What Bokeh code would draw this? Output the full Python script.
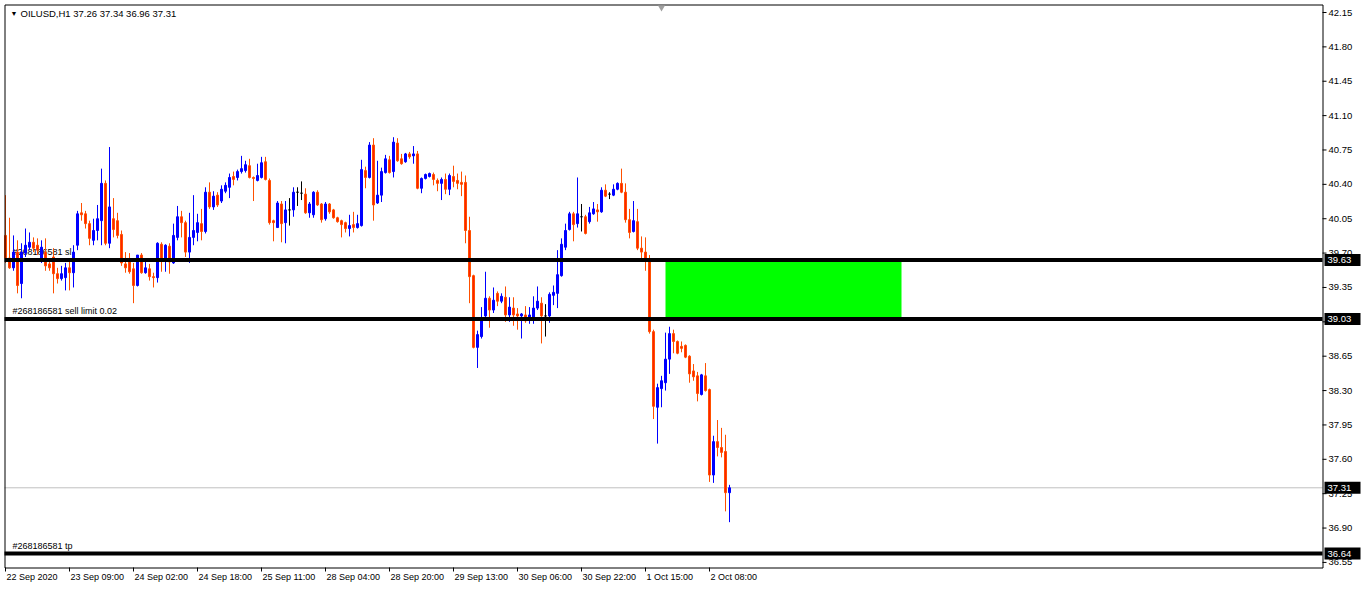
from bokeh.plotting import figure
from bokeh.models import Range1d, ColumnDataSource
from bokeh.core.properties import value
from bokeh.embed import file_html
from bokeh.resources import INLINE

# ---------------- data (OILUSD H1) ----------------
symbol = "OILUSD,H1"

opens = [39.88, 39.65, 39.55, 39.71, 39.39, 39.70, 39.76, 39.81, 39.78, 39.65,
         39.71, 39.59, 39.66, 39.49, 39.44, 39.45, 39.55, 39.50, 39.78, 40.11,
         40.10, 40.00, 39.83, 39.93, 40.03, 40.41, 39.80, 40.05, 40.03, 39.89,
         39.59, 39.61, 39.54, 39.37, 39.68, 39.50, 39.54, 39.46, 39.45, 39.79,
         39.62, 39.77, 39.60, 39.86, 40.07, 40.01, 39.71, 39.86, 39.91, 40.00,
         39.92, 40.32, 40.17, 40.29, 40.23, 40.33, 40.37, 40.48, 40.47, 40.53,
         40.54, 40.59, 40.47, 40.44, 40.47, 40.63, 40.44, 40.03, 39.96, 40.20,
         40.01, 40.14, 40.14, 40.32, 40.31, 40.30, 40.11, 40.09, 40.32, 40.20,
         40.05, 40.20, 40.14, 40.06, 40.03, 40.01, 39.95, 39.99, 39.96, 39.98,
         40.54, 40.47, 40.80, 40.21, 40.29, 40.52, 40.65, 40.53, 40.82, 40.66,
         40.63, 40.71, 40.69, 40.71, 40.36, 40.46, 40.48, 40.50, 40.44, 40.41,
         40.45, 40.35, 40.48, 40.44, 40.42, 40.42, 39.93, 39.47, 38.74, 38.85,
         39.06, 39.24, 39.12, 39.29, 39.21, 39.25, 39.07, 39.14, 39.08, 39.06,
         39.07, 39.04, 39.04, 39.14, 39.19, 39.06, 39.06, 39.27, 39.29, 39.47,
         39.76, 39.94, 40.10, 40.00, 40.07, 40.07, 40.02, 40.10, 40.14, 40.12,
         40.34, 40.30, 40.29, 40.35, 40.41, 40.32, 40.04, 39.92, 40.02, 39.75,
         39.71, 39.63, 38.90, 38.13, 38.32, 38.38, 38.62, 38.88, 38.80, 38.75,
         38.76, 38.65, 38.50, 38.45, 38.26, 38.45, 38.31, 37.44, 37.78, 37.72,
         37.68, 37.26]

highs = [40.29, 40.06, 39.88, 39.83, 39.80, 39.95, 39.91, 39.86, 39.85, 39.83,
         39.85, 39.65, 39.75, 39.55, 39.57, 39.60, 39.62, 39.78, 40.13, 40.21,
         40.13, 40.03, 40.05, 40.19, 40.56, 40.44, 40.78, 40.26, 40.11, 39.93,
         39.71, 39.70, 39.60, 39.68, 39.70, 39.64, 39.59, 39.50, 39.81, 39.81,
         39.79, 39.80, 40.00, 40.18, 40.13, 40.03, 40.11, 40.29, 40.10, 40.15,
         40.37, 40.42, 40.33, 40.32, 40.39, 40.42, 40.51, 40.53, 40.55, 40.69,
         40.64, 40.66, 40.48, 40.61, 40.68, 40.68, 40.46, 40.04, 40.23, 40.23,
         40.23, 40.26, 40.37, 40.37, 40.43, 40.36, 40.22, 40.33, 40.34, 40.21,
         40.22, 40.21, 40.15, 40.07, 40.04, 40.02, 40.09, 40.12, 40.09, 40.65,
         40.58, 40.83, 40.87, 40.64, 40.57, 40.70, 40.69, 40.88, 40.87, 40.71,
         40.72, 40.73, 40.79, 40.74, 40.47, 40.51, 40.52, 40.52, 40.46, 40.47,
         40.51, 40.51, 40.59, 40.51, 40.53, 40.49, 40.07, 39.48, 38.91, 39.15,
         39.51, 39.26, 39.35, 39.31, 39.29, 39.36, 39.25, 39.25, 39.14, 39.09,
         39.16, 39.15, 39.26, 39.36, 39.25, 39.18, 39.30, 39.37, 39.73, 39.85,
         40.00, 40.12, 40.12, 40.47, 40.20, 40.09, 40.17, 40.22, 40.20, 40.37,
         40.40, 40.32, 40.40, 40.42, 40.56, 40.41, 40.15, 40.23, 40.15, 39.87,
         39.86, 39.68, 38.92, 38.37, 38.45, 38.89, 38.95, 38.92, 38.81, 38.80,
         38.77, 38.66, 38.57, 38.49, 38.47, 38.58, 38.32, 37.84, 38.00, 37.92,
         37.85, 37.34]

lows = [39.60, 39.54, 39.52, 39.29, 39.24, 39.66, 39.73, 39.71, 39.68, 39.60,
        39.52, 39.52, 39.29, 39.39, 39.42, 39.32, 39.32, 39.35, 39.73, 40.03,
        39.95, 39.78, 39.78, 39.83, 39.78, 39.78, 39.75, 39.86, 39.85, 39.57,
        39.50, 39.49, 39.19, 39.36, 39.49, 39.49, 39.42, 39.35, 39.40, 39.51,
        39.51, 39.49, 39.59, 39.83, 39.86, 39.66, 39.60, 39.78, 39.82, 39.83,
        39.90, 40.15, 40.14, 40.17, 40.21, 40.31, 40.26, 40.39, 40.44, 40.51,
        40.52, 40.46, 40.23, 40.43, 40.46, 40.44, 39.99, 39.82, 39.96, 39.81,
        39.80, 39.98, 40.07, 40.18, 40.24, 40.10, 40.06, 40.06, 40.18, 40.01,
        40.03, 40.10, 40.05, 40.01, 39.86, 39.91, 39.87, 39.91, 39.95, 39.97,
        40.36, 40.46, 40.03, 40.20, 40.22, 40.51, 40.51, 40.47, 40.63, 40.60,
        40.62, 40.66, 40.61, 40.35, 40.31, 40.45, 40.47, 40.39, 40.33, 40.24,
        40.30, 40.29, 40.37, 40.35, 40.28, 39.80, 39.19, 38.73, 38.53, 38.83,
        39.03, 38.94, 39.09, 39.16, 39.19, 39.00, 39.00, 38.96, 38.92, 38.83,
        38.99, 38.98, 38.98, 39.12, 38.78, 38.85, 38.99, 39.17, 39.14, 39.46,
        39.73, 39.93, 39.82, 39.96, 39.92, 39.89, 40.00, 40.09, 40.02, 40.11,
        40.27, 40.25, 40.28, 40.34, 40.31, 40.01, 39.85, 39.91, 39.73, 39.65,
        39.52, 38.88, 38.01, 37.76, 38.13, 38.30, 38.47, 38.68, 38.67, 38.69,
        38.63, 38.38, 38.40, 38.19, 38.25, 38.29, 37.37, 37.36, 37.63, 37.62,
        37.07, 36.96]

closes = [39.65, 39.55, 39.71, 39.37, 39.71, 39.78, 39.81, 39.75, 39.73, 39.76,
          39.57, 39.55, 39.49, 39.44, 39.49, 39.55, 39.50, 39.71, 40.10, 40.09,
          40.00, 39.85, 39.93, 40.05, 40.41, 39.80, 40.17, 39.94, 39.88, 39.60,
          39.55, 39.51, 39.37, 39.68, 39.50, 39.55, 39.46, 39.45, 39.80, 39.62,
          39.78, 39.61, 39.88, 40.07, 40.01, 39.71, 39.86, 39.93, 40.01, 39.92,
          40.32, 40.17, 40.28, 40.19, 40.35, 40.39, 40.47, 40.45, 40.53, 40.56,
          40.60, 40.47, 40.46, 40.49, 40.62, 40.45, 40.01, 40.01, 40.21, 40.00,
          40.14, 40.14, 40.32, 40.32, 40.31, 40.11, 40.20, 40.32, 40.19, 40.04,
          40.20, 40.12, 40.06, 40.02, 39.99, 39.95, 39.98, 39.96, 40.00, 40.55,
          40.47, 40.80, 40.19, 40.29, 40.53, 40.66, 40.52, 40.83, 40.64, 40.61,
          40.71, 40.68, 40.71, 40.36, 40.46, 40.50, 40.51, 40.45, 40.41, 40.45,
          40.35, 40.49, 40.43, 40.41, 40.40, 39.93, 39.46, 38.74, 38.87, 39.01,
          39.24, 39.12, 39.22, 39.21, 39.26, 39.07, 39.15, 39.07, 39.06, 39.08,
          39.01, 39.07, 39.14, 39.21, 39.06, 39.06, 39.28, 39.30, 39.48, 39.79,
          39.93, 40.10, 39.99, 40.10, 40.07, 39.90, 40.11, 40.15, 40.12, 40.34,
          40.28, 40.30, 40.35, 40.41, 40.32, 40.04, 39.91, 40.03, 39.75, 39.71,
          39.62, 38.90, 38.14, 38.33, 38.40, 38.62, 38.88, 38.80, 38.68, 38.73,
          38.64, 38.47, 38.44, 38.27, 38.46, 38.30, 37.44, 37.78, 37.72, 37.67,
          37.26, 37.31]

price_ticks = [36.55, 36.90, 37.25, 37.60, 37.95, 38.30, 38.65, 39.00, 39.35,
               39.70, 40.05, 40.40, 40.75, 41.10, 41.45, 41.80, 42.15]
time_tick_bars = [0, 16, 32, 48, 64, 80, 96, 112, 128, 144, 160, 176]
time_tick_labels = ["22 Sep 2020", "23 Sep 09:00", "24 Sep 02:00", "24 Sep 18:00",
                    "25 Sep 11:00", "28 Sep 04:00", "28 Sep 20:00", "29 Sep 13:00",
                    "30 Sep 06:00", "30 Sep 22:00", "1 Oct 15:00", "2 Oct 08:00"]

order_id = "#268186581"
sl_price = 39.63
entry_price = 39.03
tp_price = 36.64
zone_bars = [165, 224]          # green zone: first / last bar

# ---------------- layout (pixels of the terminal window) ----------------
W, H = 1362, 582                # figure size
PX_BAR = 4.0                    # pixels per bar
PX_USD = 98.2                   # pixels per 1.00 USD
BAR0_PX = 5.0                   # pixel x of bar 0
TOP_PRICE = 42.15               # price at the top axis tick
TOP_PX = 12.0                   # pixel y of that tick
CH_L, CH_R, CH_T, CH_B = 4, 1322, 4, 567   # chart frame in pixels


def X(px):
    return (px - BAR0_PX) / PX_BAR


def Y(py):
    return TOP_PRICE - (py - TOP_PX) / PX_USD


FONT = value("Liberation Sans")
BULL = "#0000FF"
BEAR_LINE = "#FF5000"
BEAR_FILL = "#FF2200"
DOJI = "#000000"

n = len(opens)
bars = list(range(n))
line_cols, fill_cols = [], []
for o, c in zip(opens, closes):
    if c > o:
        line_cols.append(BULL); fill_cols.append(BULL)
    elif c < o:
        line_cols.append(BEAR_LINE); fill_cols.append(BEAR_FILL)
    else:
        line_cols.append(DOJI); fill_cols.append(DOJI)

src = ColumnDataSource(dict(
    x=bars, high=highs, low=lows,
    top=[max(o, c) for o, c in zip(opens, closes)],
    bottom=[min(o, c) for o, c in zip(opens, closes)],
    lc=line_cols, fc=fill_cols))

p = figure(width=W, height=H,
           x_range=Range1d(X(0), X(W)), y_range=Range1d(Y(H), Y(0)),
           output_backend="svg", toolbar_location=None,
           x_axis_location=None, y_axis_location=None,
           min_border=0, min_border_left=0, min_border_right=0,
           min_border_top=0, min_border_bottom=0,
           background_fill_color="white", border_fill_color="white",
           outline_line_color=None)
p.grid.visible = False

# green zone
p.quad(left=[zone_bars[0]], right=[zone_bars[1]], bottom=[entry_price], top=[sl_price],
       fill_color="#00FF00", line_color=None)

# current price line
p.segment(x0=[X(CH_L)], x1=[X(CH_R)], y0=[closes[-1]], y1=[closes[-1]],
          line_color="#C0C0C0", line_width=1)

# order texts (below the candles)
ord_txt = [f"{order_id} sl", f"{order_id} sell limit 0.02", f"{order_id} tp"]
ord_lvl = [sl_price, entry_price, tp_price]
p.text(x=[X(12)] * 3, y=[v + 3 / PX_USD for v in ord_lvl], text=ord_txt,
       text_font=FONT, text_font_size="9px", text_color="black",
       text_baseline="bottom", text_align="left")

# candles
p.segment(x0="x", y0="high", x1="x", y1="low", source=src,
          line_color="lc", line_width=1)
p.vbar(x="x", top="top", bottom="bottom", width=0.5, source=src,
       fill_color="fc", line_color="lc", line_width=1)

# order lines
p.segment(x0=[X(CH_L)] * 3, x1=[X(CH_R)] * 3, y0=ord_lvl, y1=ord_lvl,
          line_color="black", line_width=4)

# chart frame
p.quad(left=[X(CH_L + 0.5)], right=[X(CH_R + 0.5)], top=[Y(CH_T + 0.5)],
       bottom=[Y(CH_B + 0.5)], fill_color=None, line_color="black", line_width=1)

# price scale (right)
p.segment(x0=[X(CH_R)] * len(price_ticks), x1=[X(CH_R + 4)] * len(price_ticks),
          y0=price_ticks, y1=price_ticks, line_color="black", line_width=1)
p.text(x=[X(CH_R + 6)] * len(price_ticks), y=price_ticks,
       text=[f"{v:.2f}" for v in price_ticks],
       text_font=FONT, text_font_size="9.5px", text_color="black",
       text_baseline="middle", text_align="left")

# price boxes
box_lvl = [sl_price, entry_price, closes[-1], tp_price]
p.quad(left=[X(CH_R + 2)] * 4, right=[X(CH_R + 38)] * 4,
       bottom=[v - 6 / PX_USD for v in box_lvl], top=[v + 6 / PX_USD for v in box_lvl],
       fill_color="black", line_color=None)
p.text(x=[X(CH_R + 5)] * 4, y=box_lvl, text=[f"{v:.2f}" for v in box_lvl],
       text_font=FONT, text_font_size="9.5px", text_color="white",
       text_baseline="middle", text_align="left")

# time scale (bottom)
nt = len(time_tick_bars)
p.segment(x0=time_tick_bars, x1=time_tick_bars, y0=[Y(CH_B)] * nt, y1=[Y(CH_B + 4)] * nt,
          line_color="black", line_width=1)
p.text(x=[b + 1 / PX_BAR for b in time_tick_bars], y=[Y(CH_B + 9)] * nt,
       text=time_tick_labels, text_font=FONT, text_font_size="9px",
       text_color="black", text_baseline="middle", text_align="left")

# small chart-shift marker
p.scatter(x=[X(661)], y=[Y(7)], marker="inverted_triangle", size=7,
          fill_color="#A0A0A0", line_color=None)

# header
p.text(x=[X(10)], y=[Y(13)], text=["\u25BC"], text_font=FONT, text_font_size="7px",
       text_color="black", text_baseline="middle", text_align="left")
header = f"{symbol}  {opens[-1]:.2f} {highs[-1]:.2f} {lows[-1]:.2f} {closes[-1]:.2f}"
p.text(x=[X(20)], y=[Y(13)], text=[header], text_font=FONT, text_font_size="9.5px",
       text_color="black", text_baseline="middle", text_align="left")

open("out.html", "w").write(file_html(p, INLINE))
